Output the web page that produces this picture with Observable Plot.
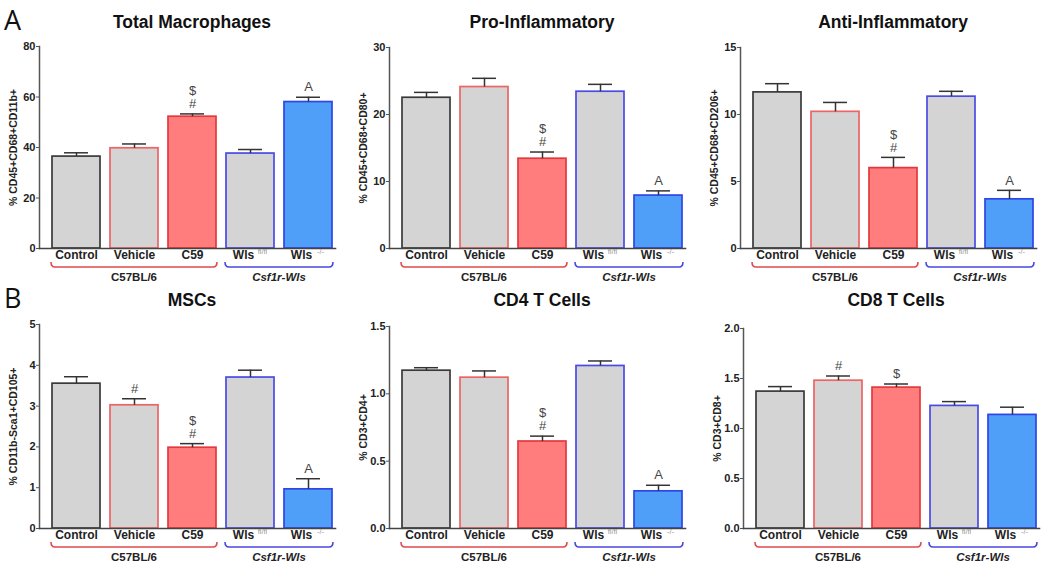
<!DOCTYPE html>
<html>
<head>
<meta charset="utf-8">
<script src="https://cdn.jsdelivr.net/npm/d3@7"></script>
<script src="https://cdn.jsdelivr.net/npm/@observablehq/plot@0.6"></script>
<style>
  html, body { margin: 0; padding: 0; background: #fff; }
  #root { position: relative; width: 1050px; height: 563px; overflow: hidden; font-family: "Liberation Sans", Arial, sans-serif; }
  .panel { position: absolute; }
  .title { position: absolute; font-weight: bold; font-size: 17.5px; color: #111; transform: translate(-50%, -50%); white-space: nowrap; }
  .letter { position: absolute; font-size: 27px; color: #111; font-family: "Open Sans", "Liberation Sans", sans-serif; line-height: 1; }
  svg { overflow: visible; }
</style>
</head>
<body>
<div id="root"></div>
<script>
// ---------- data ----------
const categories = ["Control", "Vehicle", "C59", "Wls fl/fl", "Wls -/-"];
const xLabelMain = ["Control", "Vehicle", "C59", "Wls", "Wls"];
const xLabelSup = ["", "", "", "fl/fl", "-/-"];
const groupNames = ["C57BL/6", "Csf1r-Wls"];

const titles = ["Total Macrophages", "Pro-Inflammatory", "Anti-Inflammatory", "MSCs", "CD4 T Cells", "CD8 T Cells"];
const yLabels = ["% CD45+CD68+CD11b+", "% CD45+CD68+CD80+", "% CD45+CD68+CD206+", "% CD11b-Sca1+CD105+", "% CD3+CD4+", "% CD3+CD8+"];

const macroMean = [36.4, 39.7, 52.2, 37.6, 58.0];
const macroErr  = [1.5, 1.7, 1.1, 1.6, 1.9];
const proMean   = [22.5, 24.1, 13.4, 23.4, 7.9];
const proErr    = [0.8, 1.3, 1.0, 1.1, 0.7];
const antiMean  = [11.65, 10.2, 6.0, 11.33, 3.67];
const antiErr   = [0.65, 0.7, 0.8, 0.4, 0.67];
const mscMean   = [3.55, 3.02, 1.98, 3.70, 0.96];
const mscErr    = [0.17, 0.16, 0.10, 0.18, 0.26];
const cd4Mean   = [1.172, 1.12, 0.646, 1.207, 0.276];
const cd4Err    = [0.022, 0.05, 0.04, 0.037, 0.045];
const cd8Mean   = [1.369, 1.478, 1.409, 1.226, 1.136];
const cd8Err    = [0.05, 0.047, 0.036, 0.043, 0.077];

// significance symbols, stacked from bottom to top
const macroSig = ["", "", "#$", "", "A"];
const proSig   = ["", "", "#$", "", "A"];
const antiSig  = ["", "", "#$", "", "A"];
const mscSig   = ["", "#", "#$", "", "A"];
const cd4Sig   = ["", "", "#$", "", "A"];
const cd8Sig   = ["", "#", "$", "", ""];

const macroTicks = [0, 20, 40, 60, 80];
const proTicks   = [0, 10, 20, 30];
const antiTicks  = [0, 5, 10, 15];
const mscTicks   = [0, 1, 2, 3, 4, 5];
const cd4Ticks   = [0, 0.5, 1.0, 1.5];
const cd8Ticks   = [0, 0.5, 1.0, 1.5, 2.0];

// ---------- styles ----------
const fillColors   = ["#d4d4d4", "#d4d4d4", "#ff7d7d", "#d4d4d4", "#4f9ef8"];
const strokeColors = ["#3a3a3a", "#ec6464", "#e3393c", "#4a4ae6", "#2f45e6"];
const groupColors  = ["#e04a4e", "#4a48e0"];
const groupSpans   = [["Control", "C59"], ["Wls fl/fl", "Wls -/-"]];
const FONT = "Liberation Sans, Arial, sans-serif";

const panels = [
  {mean: macroMean, err: macroErr, sig: macroSig, ticks: macroTicks, fmt: d3.format("d"), left: 0,   top: 0,   mt: 46, ml: 39, h: 283},
  {mean: proMean,   err: proErr,   sig: proSig,   ticks: proTicks,   fmt: d3.format("d"), left: 350, top: 0,   mt: 47, ml: 39, h: 283},
  {mean: antiMean,  err: antiErr,  sig: antiSig,  ticks: antiTicks,  fmt: d3.format("d"), left: 700, top: 0,   mt: 47, ml: 40, h: 283},
  {mean: mscMean,   err: mscErr,   sig: mscSig,   ticks: mscTicks,   fmt: d3.format("d"), left: 0,   top: 283, mt: 41, ml: 39, h: 280},
  {mean: cd4Mean,   err: cd4Err,   sig: cd4Sig,   ticks: cd4Ticks,   fmt: d3.format(".1f"), left: 350, top: 283, mt: 43, ml: 39, h: 280},
  {mean: cd8Mean,   err: cd8Err,   sig: cd8Sig,   ticks: cd8Ticks,   fmt: d3.format(".1f"), left: 700, top: 283, mt: 45, ml: 43, h: 280}
];

function bracketMark() {
  return function (index, scales, values, dimensions) {
    const x = scales.x;
    const bw = typeof x.bandwidth === "function" ? x.bandwidth() : scales.scales.x.bandwidth;
    const yb = dimensions.height - dimensions.marginBottom;
    const g = d3.create("svg:g");
    groupSpans.forEach(([a, b], i) => {
      const x1 = x(a) - 1, x2 = x(b) + bw + 1;
      const y = yb + 19;
      g.append("path")
        .attr("d", `M${x1},${y - 5} Q${x1},${y} ${x1 + 4},${y} L${x2 - 4},${y} Q${x2},${y} ${x2},${y - 5}`)
        .attr("fill", "none").attr("stroke", groupColors[i]).attr("stroke-width", 1.6);
      g.append("text")
        .attr("x", (x1 + x2) / 2).attr("y", yb + 30)
        .attr("text-anchor", "middle").attr("dominant-baseline", "middle")
        .attr("font-family", FONT).attr("font-size", 11.5).attr("font-weight", "bold")
        .attr("font-style", i === 1 ? "italic" : "normal")
        .attr("fill", "#222")
        .text(groupNames[i]);
    });
    return g.node();
  };
}

const root = document.getElementById("root");

panels.forEach((p, k) => {
  const data = categories.map((c, i) => ({
    cat: c, mean: p.mean[i], err: p.err[i], top: p.mean[i] + p.err[i],
    fill: fillColors[i], stroke: strokeColors[i],
    main: xLabelMain[i], sup: xLabelSup[i], sig: p.sig[i]
  }));
  const sigData = [];
  data.forEach(d => d.sig.split("").forEach((s, j) => sigData.push({cat: d.cat, top: d.top, s, level: j})));
  const width = 350;
  const mb = 35;
  const ml = p.ml;
  const frameRight = ml + 296;
  const chart = Plot.plot({
    width, height: p.h,
    marginTop: p.mt, marginBottom: mb, marginLeft: ml, marginRight: width - frameRight,
    style: {fontFamily: FONT, background: "transparent", overflow: "visible"},
    x: {domain: categories, range: [ml + 8, ml + 298], paddingInner: 0.17, paddingOuter: 0.085, axis: null},
    y: {domain: [0, p.ticks[p.ticks.length - 1]], axis: null},
    color: {type: "identity"},
    marks: [
      Plot.barY(data, {x: "cat", y: "mean", fill: "fill", stroke: "stroke", strokeWidth: 1.7}),
      Plot.ruleX(data, {x: "cat", y1: "mean", y2: "top", stroke: "#333", strokeWidth: 1.5}),
      Plot.tickY(data, {x: "cat", y: "top", stroke: "#333", strokeWidth: 1.5, insetLeft: 12, insetRight: 12}),
      Plot.text(sigData.filter(d => d.level === 0), {x: "cat", y: "top", text: "s", dy: -10, fontSize: 13, fill: "#444", fontFamily: FONT}),
      Plot.text(sigData.filter(d => d.level === 1), {x: "cat", y: "top", text: "s", dy: -23, fontSize: 13, fill: "#444", fontFamily: FONT}),
      Plot.frame({anchor: "left", stroke: "#555", strokeWidth: 1.5}),
      Plot.frame({anchor: "bottom", stroke: "#444", strokeWidth: 1.6}),
      Plot.axisY({ticks: p.ticks, tickFormat: p.fmt, tickSize: 3, tickPadding: 1, fontSize: 11, fontWeight: "bold", label: null, stroke: "#555", fill: "#222"}),
      Plot.text([yLabels[k]], {text: d => d, frameAnchor: "left", textAnchor: "middle", rotate: -90, dx: -26, fontSize: 10.5, fontWeight: "bold", fill: "#222", fontFamily: FONT}),
      Plot.text(data.slice(0, 3), {x: "cat", text: "main", frameAnchor: "bottom", dy: 10, fontSize: 12, fontWeight: "bold", fill: "#222", fontFamily: FONT}),
      Plot.text(data.slice(3), {x: "cat", text: "main", frameAnchor: "bottom", dy: 10, dx: -7, fontSize: 12, fontWeight: "bold", fill: "#222", fontFamily: FONT}),
      Plot.text(data.slice(3), {x: "cat", text: "sup", frameAnchor: "bottom", dy: 5, dx: 12, fontSize: 7.5, fill: "#999", fontFamily: FONT}),
      bracketMark()
    ]
  });
  const div = document.createElement("div");
  div.className = "panel";
  div.style.left = p.left + "px";
  div.style.top = p.top + "px";
  div.appendChild(chart);
  root.appendChild(div);

  const t = document.createElement("div");
  t.className = "title";
  t.textContent = titles[k];
  t.style.left = (p.left + ml + 153) + "px";
  t.style.top = (k < 3 ? 22 : 300) + "px";
  root.appendChild(t);
});

["A", "B"].forEach((L, i) => {
  const d = document.createElement("div");
  d.className = "letter";
  d.textContent = L;
  d.style.left = "4px";
  d.style.top = (i === 0 ? 6 : 284) + "px";
  root.appendChild(d);
});
</script>
</body>
</html>
